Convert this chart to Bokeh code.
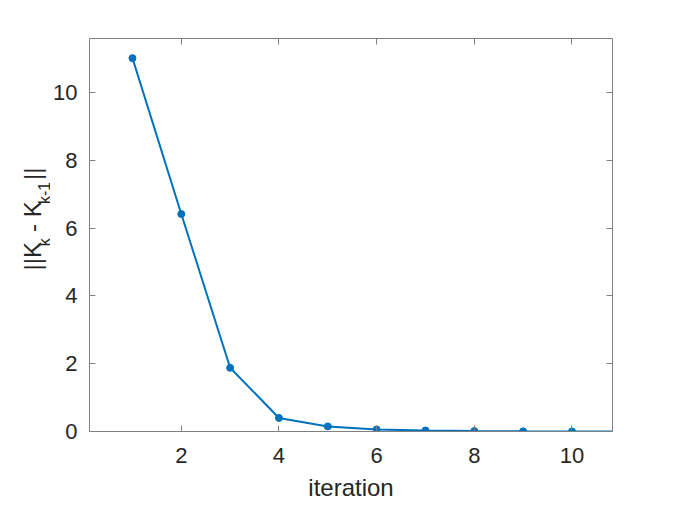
from bokeh.plotting import figure
from bokeh.models import LinearAxis, FixedTicker, Range1d
from bokeh.layouts import row
from bokeh.core.properties import value
from bokeh.embed import file_html
from bokeh.resources import INLINE

# data
iterations = [1, 2, 3, 4, 5, 6, 7, 8, 9, 10, 11]
diff_norm = [11.02, 6.42, 1.88, 0.40, 0.15, 0.06, 0.03, 0.012, 0.005, 0.002, 0.001]
x_ticks = [2, 4, 6, 8, 10]
y_ticks = [0, 2, 4, 6, 8, 10]
x_label = "iteration"
y_label_parts = ["||K", "k", "- K", "k-1", "||"]   # ||K_k - K_{k-1}||

LINE = "#0072BD"
AX = "#808080"
TXT = "#262626"
FONT = "Liberation Sans"

H = 508
LW = 50            # width of the y-label strip
W = 677 - LW
BL, BR, BT, BB = 88 - LW, 65, 38, 77

p = figure(width=W, height=H, output_backend="svg", toolbar_location=None,
           x_range=Range1d(0.12, 10.83), y_range=Range1d(0.0, 11.6),
           min_border_left=BL, min_border_right=BR, min_border_top=BT, min_border_bottom=BB,
           x_axis_location=None, y_axis_location=None)
p.xgrid.visible = False
p.ygrid.visible = False
p.outline_line_color = None
p.background_fill_color = "white"
p.border_fill_color = "white"

def style(ax, ticks, show_labels):
    ax.ticker = FixedTicker(ticks=ticks)
    ax.axis_line_color = AX
    ax.axis_line_width = 1
    ax.major_tick_line_color = AX
    ax.major_tick_line_width = 1
    ax.major_tick_in = 6
    ax.major_tick_out = 0
    ax.minor_tick_line_color = None
    ax.major_label_text_font = FONT
    ax.major_label_text_color = TXT
    ax.major_label_text_font_size = "22px"
    if not show_labels:
        ax.major_label_overrides = {t: "" for t in ticks}

xb = LinearAxis(axis_label=x_label)
style(xb, x_ticks, True)
xb.major_label_standoff = 16
xb.axis_label_text_font = FONT
xb.axis_label_text_font_size = "24px"
xb.axis_label_text_font_style = "normal"
xb.axis_label_text_color = TXT
xb.axis_label_standoff = 8
p.add_layout(xb, "below")

xt = LinearAxis()
style(xt, x_ticks, False)
p.add_layout(xt, "above")

yl = LinearAxis()
style(yl, y_ticks, True)
yl.major_label_standoff = 12
p.add_layout(yl, "left")

yr = LinearAxis()
style(yr, y_ticks, False)
p.add_layout(yr, "right")

p.line(iterations, diff_norm, line_color=LINE, line_width=2)
p.scatter(iterations, diff_norm, size=7, fill_color=LINE, line_color=LINE)

# y-label strip: a bare figure whose ranges equal its pixels
lab = figure(width=LW, height=H, output_backend="svg", toolbar_location=None,
             x_range=Range1d(0, LW), y_range=Range1d(0, H),
             min_border=0, x_axis_location=None, y_axis_location=None)
lab.xgrid.visible = False
lab.ygrid.visible = False
lab.outline_line_color = None
lab.border_fill_color = "white"
lab.background_fill_color = "white"

main_px, sub_px = 32, 43.5
part_px = [main_px, sub_px, main_px, sub_px, main_px]
part_py = [300, 268.5, 250, 214, 183]
part_fs = ["24px", "16px", "24px", "16px", "24px"]
for txt, px, py, fs in zip(y_label_parts, part_px, part_py, part_fs):
    lab.text(x=[px], y=[H - py], text=[txt], angle=1.5707963267948966,
             text_font=value(FONT), text_font_size=value(fs), text_color=TXT,
             text_align="left", text_baseline="alphabetic")

layout = row(lab, p, spacing=0)
open("out.html", "w").write(file_html(layout, INLINE))
